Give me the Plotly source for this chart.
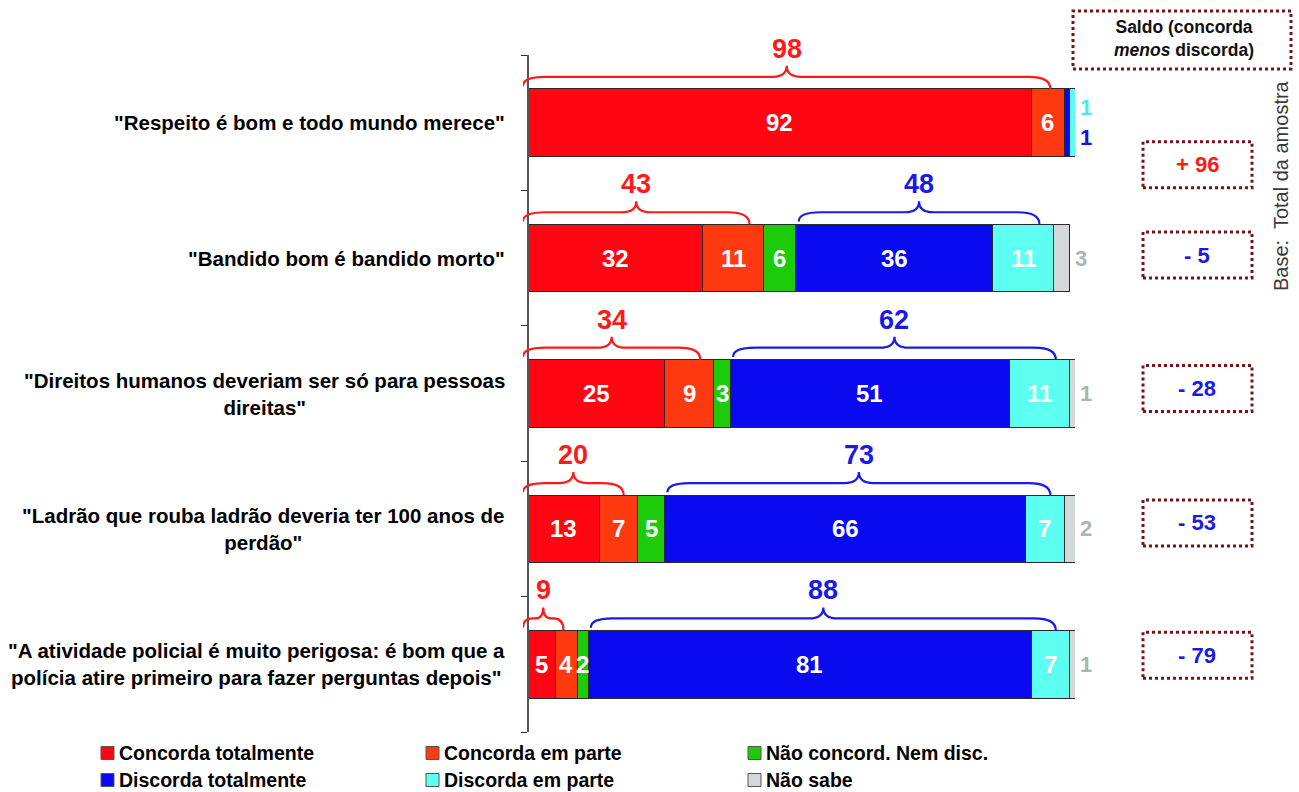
import plotly.graph_objects as go

# ---------------- data ----------------
categories = [
    '"Respeito é bom e todo mundo merece"',
    '"Bandido bom é bandido morto"',
    '"Direitos humanos deveriam ser só para pessoas<br>direitas"',
    '"Ladrão que rouba ladrão deveria ter 100 anos de<br>perdão"',
    '"A atividade policial é muito perigosa: é bom que a<br>polícia atire primeiro para fazer perguntas depois"',
]
series_names = ["Concorda totalmente", "Concorda em parte", "Não concord. Nem disc.",
                "Discorda totalmente", "Discorda em parte", "Não sabe"]
concorda_totalmente = [92, 32, 25, 13, 5]
concorda_em_parte = [6, 11, 9, 7, 4]
nao_concord_nem_disc = [0, 6, 3, 5, 2]
discorda_totalmente = [1, 36, 51, 66, 81]
discorda_em_parte = [1, 11, 11, 7, 7]
nao_sabe = [0, 3, 1, 2, 1]
total_concorda = [98, 43, 34, 20, 9]
total_discorda = [2, 48, 62, 73, 88]
saldo = [96, -5, -28, -53, -79]

series_values = [concorda_totalmente, concorda_em_parte, nao_concord_nem_disc,
                 discorda_totalmente, discorda_em_parte, nao_sabe]

# ---------------- style ----------------
colors = ["#ff0612", "#ff3a10", "#1ccc0a", "#0a0af0", "#5cfff0", "#d3d9d9"]
RED_TXT = "#ff1a1a"
BLUE_TXT = "#1a1ae8"
GRAY_TXT = "#aab4b4"
BOX_COL = "#7a1414"
FONT = "Liberation Sans, Arial, sans-serif"

W, H = 1299, 792
L, R, T, B = 523, 1075, 55, 732
XMIN, XMAX = -0.9, 100
rows_y = [4, 3, 2, 1, 0]
BAR_W = 0.5
UNIT_Y = (B - T) / 5.0


def px_x(px):
    return (px - L) / (R - L)


def px_y(py):
    return (B - py) / (B - T)


fig = go.Figure()
for name, vals, col in zip(series_names, series_values, colors):
    fig.add_trace(go.Bar(
        name=name, y=rows_y, x=vals, orientation="h", width=BAR_W,
        marker=dict(color=col, line=dict(color="#2a2a2a", width=1)),
        showlegend=False, hoverinfo="x+name",
    ))

annotations = []
shapes = []


def ann(**kw):
    kw.setdefault("showarrow", False)
    kw.setdefault("xanchor", "center")
    kw.setdefault("yanchor", "middle")
    kw.setdefault("borderpad", 0)
    annotations.append(kw)


# inside labels
for i, y in enumerate(rows_y):
    cum = 0
    for s, vals in enumerate(series_values):
        v = vals[i]
        if s < 5 and v >= 2:
            ann(x=cum + v / 2, y=y, xref="x", yref="y", text=f"<b>{v}</b>",
                font=dict(family=FONT, size=24, color="white"))
        cum += v

# outside labels (small values)
for i, y in enumerate(rows_y):
    total = sum(vals[i] for vals in series_values)
    outside = []
    if nao_sabe[i] > 0:
        outside.append((nao_sabe[i], GRAY_TXT))
    else:
        if discorda_em_parte[i] < 2:
            outside.append((discorda_em_parte[i], "#3ef0e8"))
        if discorda_totalmente[i] < 2:
            outside.append((discorda_totalmente[i], "#1010e0"))
    n = len(outside)
    for k, (v, c) in enumerate(outside):
        ann(x=total, y=y, xref="x", yref="y", xanchor="left", xshift=4,
            yshift=-(k - (n - 1) / 2) * 30,
            text=f"<b>{v}</b>", font=dict(family=FONT, size=22, color=c))


# braces
def brace(x0, x1, yb, color):
    h1 = yb + 12 / UNIT_Y
    h2 = yb + 23 / UNIT_Y
    xm = (x0 + x1) / 2
    rx = min(4.0, (x1 - x0) / 4)
    rc = min(2.6, (x1 - x0) / 5)
    path = (f"M {x0},{yb + 0.02} Q {x0},{h1} {x0 + rx},{h1} "
            f"L {xm - rc},{h1} Q {xm},{h1} {xm},{h2} "
            f"Q {xm},{h1} {xm + rc},{h1} L {x1 - rx},{h1} Q {x1},{h1} {x1},{yb}")
    return dict(type="path", path=path, xref="x", yref="y",
                line=dict(color=color, width=2.2))


for i, y in enumerate(rows_y):
    yb = y + BAR_W / 2
    x0 = XMIN
    x1 = concorda_totalmente[i] + concorda_em_parte[i] - 2.5
    shapes.append(brace(x0, x1, yb, RED_TXT))
    ann(x=(x0 + x1) / 2, y=yb, yshift=40, xref="x", yref="y",
        text=f"<b>{total_concorda[i]}</b>", font=dict(family=FONT, size=27, color=RED_TXT))
    if total_discorda[i] >= 10:
        start = concorda_totalmente[i] + concorda_em_parte[i] + nao_concord_nem_disc[i]
        x0 = start + 0.5
        x1 = start + discorda_totalmente[i] + discorda_em_parte[i] - 2.5
        shapes.append(brace(x0, x1, yb, BLUE_TXT))
        ann(x=(x0 + x1) / 2, y=yb, yshift=40, xref="x", yref="y",
            text=f"<b>{total_discorda[i]}</b>", font=dict(family=FONT, size=27, color=BLUE_TXT))

# category labels
for i, y in enumerate(rows_y):
    ann(x=px_x(506), y=y, xref="paper", yref="y", xanchor="right",
        align="center", text=f"<b>{categories[i]}</b>",
        font=dict(family=FONT, size=20.5, color="black"))

# saldo header box
shapes.append(dict(type="rect", xref="paper", yref="paper",
                   x0=px_x(1073), x1=px_x(1291), y0=px_y(69), y1=px_y(11),
                   line=dict(color=BOX_COL, width=3, dash="dot")))
ann(x=px_x(1184), y=px_y(39), xref="paper", yref="paper",
    text="<b>Saldo (concorda<br><i>menos</i> discorda)</b>",
    font=dict(family=FONT, size=17.5, color="#111111"))

# saldo boxes
box_offsets_px = [42, -3, -5, -6, -9]
for i, y in enumerate(rows_y):
    cy_px = T + (4.5 - y) * UNIT_Y + box_offsets_px[i]
    shapes.append(dict(type="rect", xref="paper", yref="paper",
                       x0=px_x(1143), x1=px_x(1252), y0=px_y(cy_px + 23), y1=px_y(cy_px - 23),
                       line=dict(color=BOX_COL, width=3, dash="dot")))
    s = saldo[i]
    txt = f"+ {s}" if s > 0 else f"- {abs(s)}"
    ann(x=px_x(1197), y=px_y(cy_px), xref="paper", yref="paper",
        text=f"<b>{txt}</b>", font=dict(family=FONT, size=22, color=RED_TXT if s > 0 else BLUE_TXT))

# base text
ann(x=px_x(1281), y=px_y(186), xref="paper", yref="paper",
    text="Base:  Total da amostra", textangle=-90,
    font=dict(family=FONT, size=20, color="#3a3a3a"))

# manual legend
leg_x = [101, 426, 748]
leg_y = [753, 780]
for k, (name, col) in enumerate(zip(series_names, colors)):
    cx = leg_x[k % 3]
    cy = leg_y[k // 3]
    shapes.append(dict(type="rect", xref="paper", yref="paper",
                       x0=px_x(cx), x1=px_x(cx + 13), y0=px_y(cy + 6.5), y1=px_y(cy - 6.5),
                       fillcolor=col, line=dict(color="#555555", width=1)))
    ann(x=px_x(cx + 17), y=px_y(cy), xref="paper", yref="paper",
        xanchor="left", text=f"<b>{name}</b>",
        font=dict(family=FONT, size=19.5, color="black"))

fig.update_layout(
    width=W, height=H, barmode="stack",
    margin=dict(l=L, r=W - R, t=T, b=H - B, pad=0),
    plot_bgcolor="white", paper_bgcolor="white",
    xaxis=dict(range=[XMIN, XMAX], showgrid=False, zeroline=False, showline=False,
               showticklabels=False, ticks=""),
    yaxis=dict(range=[-0.5, 4.5], showgrid=False, zeroline=False, showline=True,
               anchor="free", position=(0 - XMIN) / (XMAX - XMIN),
               linecolor="#555555", linewidth=1.5, ticks="outside", ticklen=6,
               tickcolor="#333333", tickvals=[-0.5, 0.5, 1.5, 2.5, 3.5, 4.5],
               showticklabels=False),
    shapes=shapes, annotations=annotations,
    font=dict(family=FONT),
)

fig.write_html("out.html", config={"displayModeBar": False},
               post_script="document.body.style.margin='0';")
